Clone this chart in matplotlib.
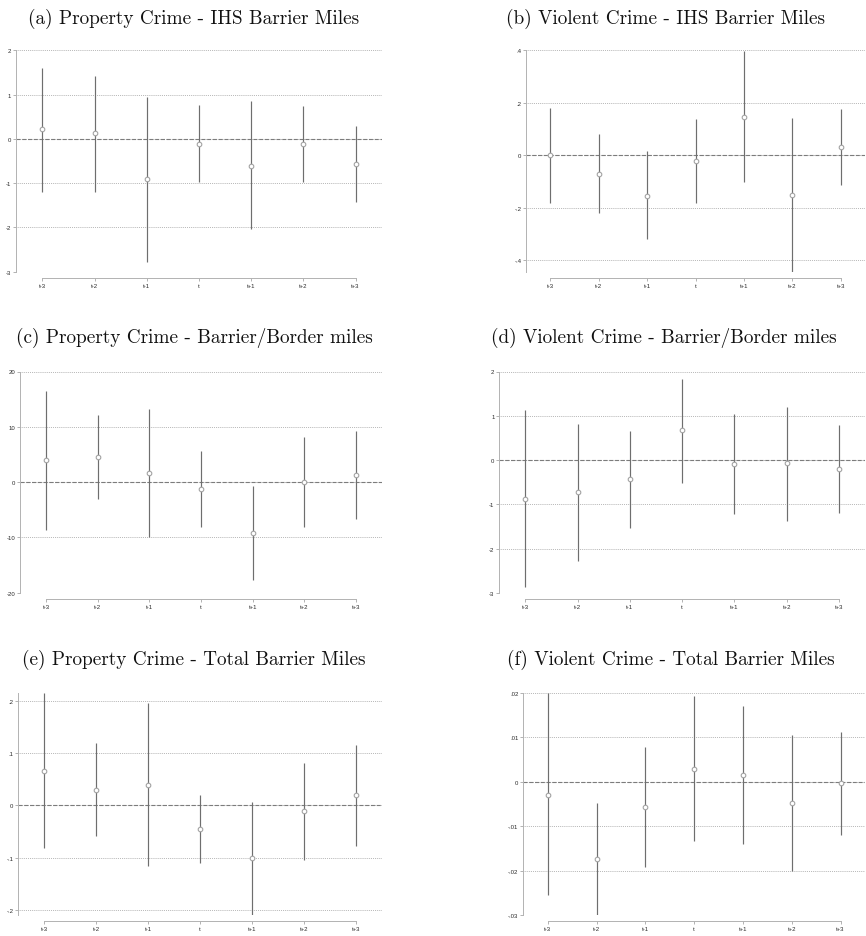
import numpy as np
import matplotlib
matplotlib.use("Agg")
import matplotlib.pyplot as plt

# Event-time labels shared by every panel
periods = ["t-3", "t-2", "t-1", "t", "t+1", "t+2", "t+3"]

# (a) Property crime, IHS barrier miles
prop_ihs_est = [0.21, 0.12, -0.92, -0.11, -0.61, -0.11, -0.56]
prop_ihs_lo = [-1.20, -1.20, -2.79, -0.97, -2.03, -0.97, -1.42]
prop_ihs_hi = [1.61, 1.42, 0.94, 0.76, 0.85, 0.73, 0.28]
prop_ihs_ticks = [-3, -2, -1, 0, 1, 2]

# (b) Violent crime, IHS barrier miles
viol_ihs_est = [0.0, -0.070, -0.153, -0.021, 0.147, -0.150, 0.033]
viol_ihs_lo = [-0.180, -0.221, -0.319, -0.180, -0.101, -0.442, -0.114]
viol_ihs_hi = [0.179, 0.080, 0.016, 0.137, 0.398, 0.141, 0.175]
viol_ihs_ticks = [-0.4, -0.2, 0.0, 0.2, 0.4]

# (c) Property crime, barrier/border miles
prop_ratio_est = [3.94, 4.55, 1.58, -1.27, -9.2, 0.06, 1.33]
prop_ratio_lo = [-8.67, -2.97, -10.0, -8.12, -17.7, -8.12, -6.67]
prop_ratio_hi = [16.4, 12.06, 13.15, 5.7, -0.67, 8.24, 9.33]
prop_ratio_ticks = [-20, -10, 0, 10, 20]

# (d) Violent crime, barrier/border miles
viol_ratio_est = [-0.88, -0.73, -0.42, 0.67, -0.083, -0.075, -0.195]
viol_ratio_lo = [-2.88, -2.29, -1.53, -0.51, -1.23, -1.37, -1.19]
viol_ratio_hi = [1.14, 0.82, 0.66, 1.83, 1.05, 1.20, 0.80]
viol_ratio_ticks = [-3, -2, -1, 0, 1, 2]

# (e) Property crime, total barrier miles
prop_total_est = [0.066, 0.030, 0.039, -0.046, -0.101, -0.011, 0.020]
prop_total_lo = [-0.081, -0.059, -0.117, -0.111, -0.210, -0.104, -0.078]
prop_total_hi = [0.215, 0.119, 0.196, 0.020, 0.006, 0.081, 0.115]
prop_total_ticks = [-0.2, -0.1, 0.0, 0.1, 0.2]

# (f) Violent crime, total barrier miles
viol_total_est = [-0.0029, -0.0173, -0.0057, 0.0029, 0.0016, -0.0048, -0.0003]
viol_total_lo = [-0.0256, -0.0299, -0.0193, -0.0133, -0.0140, -0.0200, -0.0120]
viol_total_hi = [0.0200, -0.0048, 0.0078, 0.0194, 0.0171, 0.0105, 0.0113]
viol_total_ticks = [-0.03, -0.02, -0.01, 0.0, 0.01, 0.02]

titles = [
    "(a) Property Crime - IHS Barrier Miles",
    "(b) Violent Crime - IHS Barrier Miles",
    "(c) Property Crime - Barrier/Border miles",
    "(d) Violent Crime - Barrier/Border miles",
    "(e) Property Crime - Total Barrier Miles",
    "(f) Violent Crime - Total Barrier Miles",
]

panels = [
    (prop_ihs_est, prop_ihs_lo, prop_ihs_hi, prop_ihs_ticks),
    (viol_ihs_est, viol_ihs_lo, viol_ihs_hi, viol_ihs_ticks),
    (prop_ratio_est, prop_ratio_lo, prop_ratio_hi, prop_ratio_ticks),
    (viol_ratio_est, viol_ratio_lo, viol_ratio_hi, viol_ratio_ticks),
    (prop_total_est, prop_total_lo, prop_total_hi, prop_total_ticks),
    (viol_total_est, viol_total_lo, viol_total_hi, viol_total_ticks),
]

W, H = 866, 937
fig = plt.figure(figsize=(W / 100, H / 100), dpi=100)

# Panel rectangles in pixels: (left, top, right, bottom)
rects = [
    (16.2, 51.3, 381.6, 272.5),
    (526.3, 51.3, 865.0, 272.5),
    (20.4, 372.5, 381.8, 593.8),
    (499.3, 372.5, 865.0, 593.8),
    (18.3, 694.0, 382.0, 916.0),
    (523.3, 694.0, 865.0, 916.0),
]
title_pos = [
    (193.5, 24.0), (665, 24.0),
    (194.0, 342.5), (664, 342.5),
    (193.5, 664.5), (671, 664.5),
]


def stata_fmt(v):
    if abs(v) < 1e-12:
        return "0"
    s = f"{v:g}"
    if s.startswith("0."):
        s = s[1:]
    elif s.startswith("-0."):
        s = "-" + s[2:]
    return s


tick_font = ["Liberation Sans", "DejaVu Sans"]
axis_col = "#b2b2b2"
bar_col = "#6e6e6e"
mark_col = "#a3a3a3"
grid_col = "#a0a0a0"

for (est, lo, hi, ticks), (l, t, r, b), title, (tx, ty) in zip(panels, rects, titles, title_pos):
    ax = fig.add_axes([l / W, 1 - b / H, (r - l) / W, (b - t) / H])
    x = np.arange(len(periods))
    est = np.asarray(est)
    lo = np.asarray(lo)
    hi = np.asarray(hi)

    ymin = min(ticks[0], lo.min())
    ymax = max(ticks[-1], hi.max())
    ax.set_ylim(ymin, ymax)
    ax.set_xlim(-0.5, len(periods) - 0.5)

    # Dotted horizontal gridlines at each labelled tick
    for yv in ticks:
        ax.axhline(yv, color=grid_col, lw=0.6, ls=(0, (1, 1.3)), zorder=1)
    ax.axhline(0, color="#7c7c7c", lw=0.8, ls=(0, (3.6, 1.6)), zorder=2)

    ax.vlines(x, lo, hi, color=bar_col, lw=0.85, zorder=3)
    ax.plot(x, est, "o", mfc="white", mec=mark_col, mew=0.8, ms=3.3, zorder=4)

    ax.set_yticks(ticks)
    ax.set_yticklabels([stata_fmt(v) for v in ticks])
    ax.set_xticks(x)
    ax.set_xticklabels(periods)

    for side in ("top", "right"):
        ax.spines[side].set_visible(False)
    ax.spines["left"].set_color(axis_col)
    ax.spines["left"].set_linewidth(0.7)
    ax.spines["bottom"].set_color(axis_col)
    ax.spines["bottom"].set_linewidth(0.7)
    ax.spines["bottom"].set_position(("outward", 4.5))
    ax.spines["bottom"].set_bounds(0, len(periods) - 1)

    ax.tick_params(axis="both", colors=axis_col, length=2.0, width=0.7, pad=1.5,
                   labelsize=4.3, labelcolor="#2a2a2a")
    for lab in ax.get_xticklabels() + ax.get_yticklabels():
        lab.set_family(tick_font)

    fig.text(tx / W, 1 - ty / H, title, ha="center", va="baseline",
             fontsize=13.85, family=["cmr10", "DejaVu Serif"], color="#111111")

fig.savefig("out.png", dpi=100)
